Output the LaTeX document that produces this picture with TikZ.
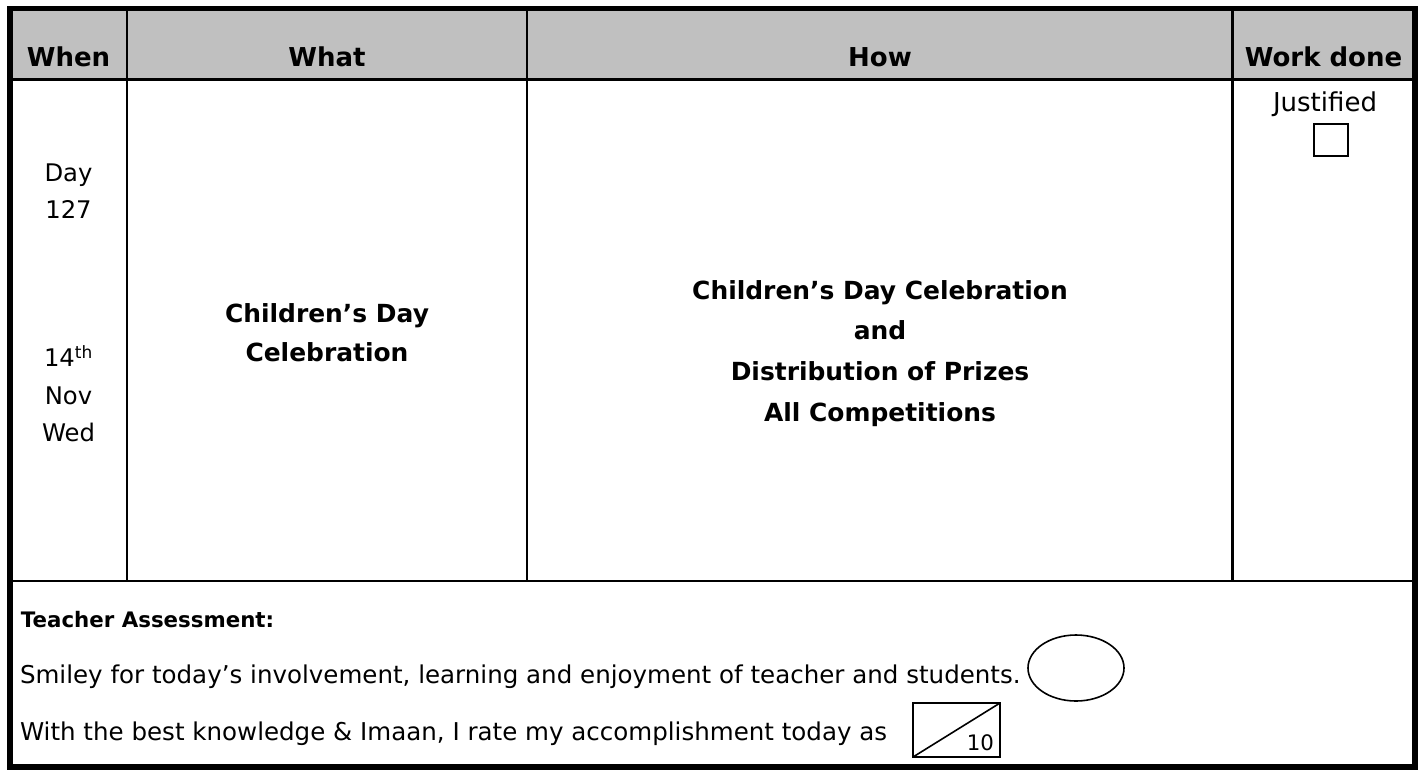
\documentclass[tikz,border=0pt]{standalone}
\usepackage{fontspec}
\usetikzlibrary{shapes.geometric}
\setmainfont{DejaVu Sans}
\definecolor{hdrgray}{RGB}{192,192,192}
\begin{document}
\begin{tikzpicture}[x=0.75pt,y=-0.75pt,
  every node/.style={inner sep=0pt, outer sep=0pt},
  hdr/.style={font=\bfseries\fontsize{19.5}{23}\selectfont, anchor=base},
  reg/.style={font=\fontsize{18.2}{22}\selectfont, anchor=base},
  line/.style={font=\fontsize{18.4}{22}\selectfont, anchor=base west},
  bbold/.style={font=\bfseries\fontsize{18.7}{22}\selectfont, anchor=base},
  sbold/.style={font=\bfseries\fontsize{16}{20}\selectfont, anchor=base west},
  thin/.style={line width=1.2pt},
  rule/.style={line width=1.8pt},
  frame/.style={line width=4.1pt},
]
\useasboundingbox (0,0) rectangle (1421,769);
\fill[white] (0,0) rectangle (1421,769);
% header background
\fill[hdrgray] (10,8.5) rectangle (1415,79.5);
% grid
\coordinate (h1l) at (10,79.5);  \coordinate (h1r) at (1415,79.5);
\coordinate (h2l) at (10,580.7); \coordinate (h2r) at (1415,580.7);
\coordinate (v1t) at (127,8.5);  \coordinate (v1b) at (127,580.7);
\coordinate (v2t) at (527,8.5);  \coordinate (v2b) at (527,580.7);
\coordinate (v3t) at (1232.5,8.5); \coordinate (v3b) at (1232.5,580.7);
\draw[rule] (h1l) -- (h1r);
\draw[rule] (h2l) -- (h2r);
\draw[rule] (v1t) -- (v1b);
\draw[rule] (v2t) -- (v2b);
\draw[rule] (v3t) -- (v3b);
\draw[frame] (10,8.5) rectangle (1415,767);
% header texts
\node[hdr] (hwhen) at (68.5,66) {When};
\node[hdr] (hwhat) at (327,66) {What};
\node[hdr] (hhow) at (880,66) {How};
\node[hdr] (hdone) at (1323.5,66) {Work done};
% when column
\node[reg] (day) at (68.5,181.7) {Day};
\node[reg] (num) at (68.5,218.3) {127};
\node[reg] (dnum) at (68.5,366.7) {14\textsuperscript{th}};
\node[reg] (mon) at (68.5,404) {Nov};
\node[reg] (wday) at (68.5,441.5) {Wed};
% what column
\node[bbold] (what1) at (327,322) {Children’s Day};
\node[bbold] (what2) at (327,361.5) {Celebration};
% how column
\node[bbold] (how1) at (880,299.5) {Children’s Day Celebration};
\node[bbold] (how2) at (880,339.5) {and};
\node[bbold] (how3) at (880,380) {Distribution of Prizes};
\node[bbold] (how4) at (880,421) {All Competitions};
% work done column
\node[reg, font=\fontsize{19.5}{23}\selectfont] (just) at (1325,111.7) {Justified};
\node[draw, thin, minimum width=25.5pt, minimum height=24pt] (chk) at (1331,140) {};
% assessment
\node[sbold] (ta) at (21,627) {Teacher Assessment:};
\node[line] (smiley) at (20,683) {Smiley for today’s involvement, learning and enjoyment of teacher and students.};
\node[draw, thin, ellipse, minimum width=72pt, minimum height=49.5pt] (face) at (1076,668) {};
\node[line] (rate) at (20,740) {With the best knowledge \& Imaan, I rate my accomplishment today as};
\coordinate (bsw) at (913,757);
\coordinate (bne) at (1000,703);
\draw[thin] (bsw) rectangle (bne);
\draw[thin] (bsw) -- (bne);
\node[font=\fontsize{16}{19}\selectfont, anchor=base east] (ten) at (994,750) {10};
\end{tikzpicture}
\end{document}
